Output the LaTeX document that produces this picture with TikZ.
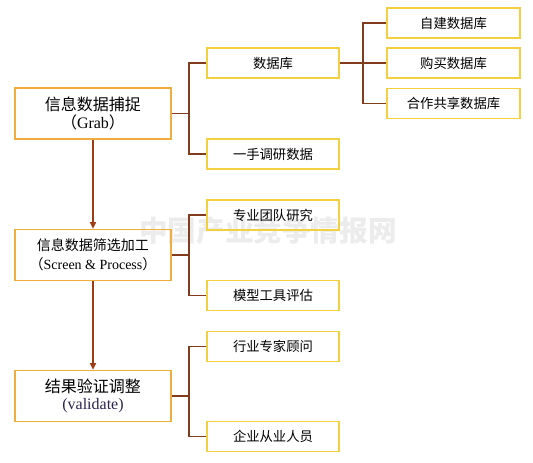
\documentclass[tikz,border=0pt]{standalone}
\usepackage{fontspec}
\setmainfont{Liberation Serif}
\newfontfamily\cjk{Noto Sans CJK SC}
\usetikzlibrary{arrows.meta}
\definecolor{bigbd}{RGB}{240,172,60}
\definecolor{smbd}{RGB}{242,208,64}
\definecolor{conn}{RGB}{128,60,28}
\definecolor{arrc}{RGB}{160,60,20}
\definecolor{wm}{RGB}{236,236,236}
\definecolor{valc}{RGB}{45,35,80}
\tikzset{
  bigbox/.style={draw=bigbd, line width=1.1pt, minimum width=117pt, minimum height=38.25pt, align=center, inner sep=0pt},
  midbox/.style={draw=smbd, line width=1.1pt, minimum width=99pt, minimum height=22.5pt, font=\cjk\fontsize{10}{12}\selectfont, inner sep=0pt},
  rbox/.style={draw=smbd, line width=1.1pt, minimum width=99.75pt, minimum height=22.5pt, font=\cjk\fontsize{10}{12}\selectfont, inner sep=0pt},
  conline/.style={draw=conn, line width=1pt},
  arrline/.style={draw=arrc, line width=1.1pt, -{Triangle[width=4.5pt,length=5pt]}},
  wmark/.style={text=wm, font=\cjk\bfseries\fontsize{21.5}{24}\selectfont, inner sep=0pt}
}
\begin{document}
\begin{tikzpicture}[x=0.75pt,y=-0.75pt]
\useasboundingbox (0,0) rectangle (533,463);
\node[wmark] (wm) at (268,231) {中国产业竞争情报网};
% left boxes
\node[bigbox] (b1) at (93,113.5) {{\cjk\fontsize{12}{15}\selectfont 信息数据捕捉}\\[2pt]{\fontsize{12}{15}\selectfont{\cjk （}Grab{\cjk ）}}};
\node[bigbox] (b2) at (93,255) {{\cjk\fontsize{10.5}{15}\selectfont 信息数据筛选加工}\\[2pt]{\fontsize{10.5}{15}\selectfont{\cjk （}Screen \& Process{\cjk ）}}};
\node[bigbox] (b3) at (93,396) {{\cjk\fontsize{12}{14}\selectfont 结果验证调整}\\[1pt]{\fontsize{12}{14}\selectfont\color{valc}(validate)}};
% middle boxes
\node[midbox] (m1) at (273,63) {数据库};
\node[midbox] (m2) at (273,154) {一手调研数据};
\node[midbox] (m3) at (273,215) {专业团队研究};
\node[midbox] (m4) at (273,295.5) {模型工具评估};
\node[midbox] (m5) at (273,346.5) {行业专家顾问};
\node[midbox] (m6) at (273,436.5) {企业从业人员};
% right boxes
\node[rbox] (r1) at (453.5,23) {自建数据库};
\node[rbox] (r2) at (453.5,63) {购买数据库};
\node[rbox] (r3) at (453.5,103.5) {合作共享数据库};
% junction coordinates
\coordinate (j1) at (189,0);
\coordinate (j2) at (363,0);
% connectors
\draw[conline] (b1.east) -- (b1.east -| j1);
\draw[conline] (m1.west) -- (m1.west -| j1) -- (m2.west -| j1) -- (m2.west);
\draw[conline] (b2.east) -- (b2.east -| j1);
\draw[conline] (m3.west) -- (m3.west -| j1) -- (m4.west -| j1) -- (m4.west);
\draw[conline] (b3.east) -- (b3.east -| j1);
\draw[conline] (m5.west) -- (m5.west -| j1) -- (m6.west -| j1) -- (m6.west);
\draw[conline] (m1.east) -- (r2.west);
\draw[conline] (r1.west) -- (r1.west -| j2) -- (r3.west -| j2) -- (r3.west);
% arrows
\draw[arrline] (b1.south) -- (b2.north);
\draw[arrline] (b2.south) -- (b3.north);
\end{tikzpicture}
\end{document}
